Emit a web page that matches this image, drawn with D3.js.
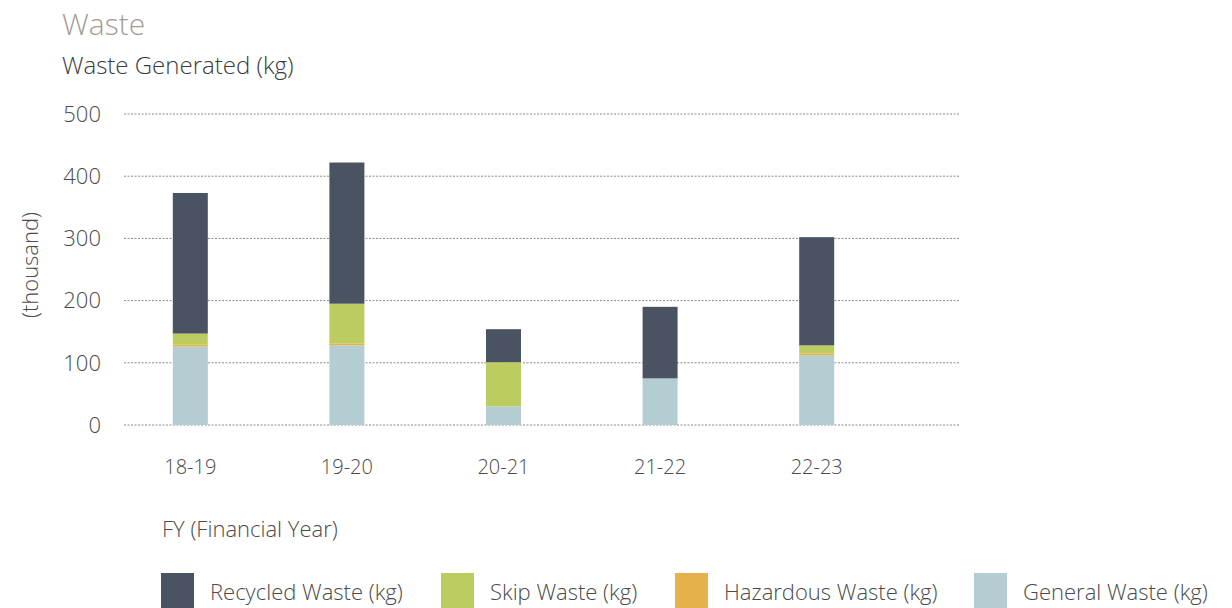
<!DOCTYPE html>
<html>
<head>
<meta charset="utf-8">
<script src="https://cdn.jsdelivr.net/npm/d3@7"></script>
<style>
  body { margin: 0; background: #fff; }
  svg { display: block; font-family: "Open Sans", sans-serif; font-weight: 300; }
</style>
</head>
<body>
<svg id="chart" width="1232" height="608"></svg>
<script>
const years = ['18-19', '19-20', '20-21', '21-22', '22-23'];
const seriesNames = ['General Waste (kg)', 'Hazardous Waste (kg)', 'Skip Waste (kg)', 'Recycled Waste (kg)'];
// values in thousand kg, stacked bottom to top
const general   = [126, 128, 30, 75, 112];
const hazardous = [3, 3, 0, 0, 3];
const skip      = [18, 64, 71, 0, 13];
const recycled  = [226, 227, 53, 115, 174];
const yTicks = [0, 100, 200, 300, 400, 500];
const legendOrder = ['Recycled Waste (kg)', 'Skip Waste (kg)', 'Hazardous Waste (kg)', 'General Waste (kg)'];

const svg = d3.select('#chart');

const colors = d3.scaleOrdinal()
    .domain(seriesNames)
    .range(['#b4cdd2', '#e6b04b', '#bccc60', '#4a5361']);

const rows = years.map((y, i) => ({
    year: y,
    'General Waste (kg)': general[i],
    'Hazardous Waste (kg)': hazardous[i],
    'Skip Waste (kg)': skip[i],
    'Recycled Waste (kg)': recycled[i]
}));

const stacked = d3.stack().keys(seriesNames)(rows);

const x = d3.scaleBand()
    .domain(years)
    .range([112, 895]);

const y = d3.scaleLinear()
    .domain([0, 500])
    .range([425, 114]);

const barWidth = 35;

// titles
svg.append('text')
    .attr('x', 62).attr('y', 35)
    .attr('font-size', 30)
    .attr('fill', '#a39d94')
    .text('Waste');

svg.append('text')
    .attr('x', 62).attr('y', 74)
    .attr('font-size', 24)
    .attr('fill', '#3a3a3a')
    .text('Waste Generated (kg)');

// grid
svg.append('g')
    .selectAll('line')
    .data(yTicks)
    .join('line')
    .attr('x1', 124).attr('x2', 960)
    .attr('y1', d => y(d)).attr('y2', d => y(d))
    .attr('stroke', '#8a8a8a')
    .attr('stroke-width', 1)
    .attr('stroke-dasharray', '2,1.5');

// y labels
svg.append('g')
    .selectAll('text')
    .data(yTicks)
    .join('text')
    .attr('x', 101)
    .attr('y', d => y(d))
    .attr('dy', '0.35em')
    .attr('text-anchor', 'end')
    .attr('font-size', 22)
    .attr('fill', '#4a4a4a')
    .text(d => d);

svg.append('text')
    .attr('transform', 'translate(38,265) rotate(-90)')
    .attr('text-anchor', 'middle')
    .attr('font-size', 22)
    .attr('fill', '#4a4a4a')
    .text('(thousand)');

// bars
svg.append('g')
    .selectAll('g')
    .data(stacked)
    .join('g')
    .attr('fill', d => colors(d.key))
    .selectAll('rect')
    .data(d => d)
    .join('rect')
    .attr('x', d => x(d.data.year) + x.bandwidth() / 2 - barWidth / 2)
    .attr('width', barWidth)
    .attr('y', d => y(d[1]))
    .attr('height', d => y(d[0]) - y(d[1]));

// x labels
svg.append('g')
    .selectAll('text')
    .data(years)
    .join('text')
    .attr('x', d => x(d) + x.bandwidth() / 2)
    .attr('y', 467)
    .attr('dy', '0.35em')
    .attr('text-anchor', 'middle')
    .attr('font-size', 20)
    .attr('fill', '#4a4a4a')
    .text(d => d);

svg.append('text')
    .attr('x', 162).attr('y', 529)
    .attr('dy', '0.35em')
    .attr('font-size', 22)
    .attr('fill', '#4a4a4a')
    .text('FY (Financial Year)');

// legend
const legendX = [161, 441, 675, 974];
const legend = svg.append('g')
    .selectAll('g')
    .data(legendOrder)
    .join('g')
    .attr('transform', (d, i) => `translate(${legendX[i]},573)`);

legend.append('rect')
    .attr('width', 33).attr('height', 35)
    .attr('fill', d => colors(d));

legend.append('text')
    .attr('x', 49).attr('y', 19)
    .attr('dy', '0.35em')
    .attr('font-size', 22)
    .attr('fill', '#4a4a4a')
    .text(d => d);
</script>
</body>
</html>
